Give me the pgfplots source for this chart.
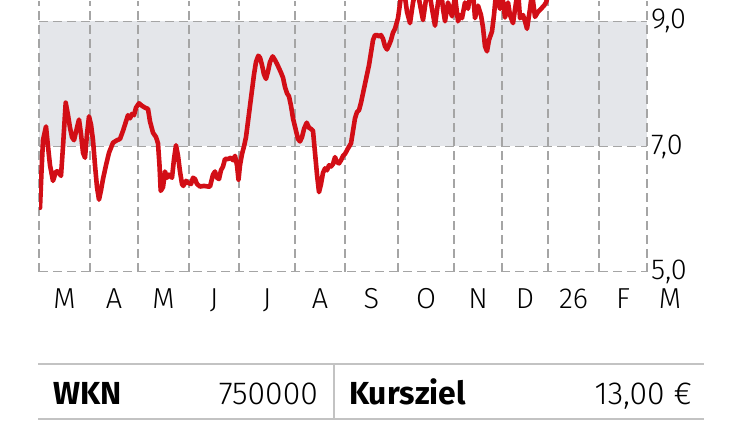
\documentclass[border=0pt]{standalone}
\usepackage{pgfplots}
\pgfplotsset{compat=1.18}
\usepackage{fontspec}
\setmainfont{Fira Sans Light}[BoldFont={Fira Sans Bold}]
\definecolor{linered}{RGB}{210,14,22}
\definecolor{band}{RGB}{228,230,234}
\definecolor{gridgray}{RGB}{165,165,165}
\definecolor{rulegray}{RGB}{195,195,195}
\begin{document}
\begin{tikzpicture}[x=1bp,y=1bp]
\begin{axis}[
  set layers,
  at={(39bp,150bp)}, anchor=south west,
  scale only axis, width=608bp, height=271bp,
  xmin=39, xmax=647, ymin=5, ymax=9.33,
  axis line style={draw=none},
  major tick length=0pt, minor tick length=0pt,
  xtick={64.5,114,163.5,214,267,320,371.5,426,478,525,573.5,623},
  xticklabels={M,A,M,J,J,A,S,O,N,D,26,F},
  minor xtick={39,90,138,189,239,295,345,398,454,502,548,599,647},
  xticklabel style={anchor=base, inner sep=0pt, yshift=-37bp, font=\fontsize{29}{34}\selectfont},
  ytick={5,7,9},
  yticklabel pos=right,
  yticklabel style={anchor=west, inner sep=0pt, xshift=4bp, font=\fontsize{29}{34}\selectfont,
    /pgf/number format/.cd, use comma, fixed, fixed zerofill, precision=1, assume math mode=true},
  xmajorgrids=false, xminorgrids=true, ymajorgrids=true,
  major grid style={gridgray, line width=1.3bp, dash pattern=on 9bp off 5bp},
  minor grid style={gridgray, line width=1.3bp, dash pattern=on 9bp off 5bp},
]
\begin{pgfonlayer}{axis background}
\fill[band] (axis cs:39,7) rectangle (axis cs:647,9);
\end{pgfonlayer}
\addplot[linered, line width=4.6bp, line join=round, line cap=round, mark=none] coordinates {
(40,6.02) (41.5,6.6) (43,7.1) (46,7.32) (48,7.0) (50,6.7) (53,6.45) (56,6.6) (58,6.6) (61,6.53)
(63,7.0) (65.7,7.7) (68,7.5) (70,7.3) (72,7.15) (74,7.1) (77,7.3) (79,7.43) (81,7.2) (83,6.9)
(85,6.82) (87,7.2) (89,7.48) (91,7.35) (93,7.1) (95,6.7) (97,6.35) (99,6.15) (101,6.3) (103,6.48)
(106,6.7) (109,6.9) (113,7.06) (117,7.1) (120,7.12) (123,7.25) (126,7.4) (128,7.5) (130,7.45) (132,7.52)
(134,7.5) (136,7.62) (139,7.69) (142,7.65) (145,7.62) (148,7.6) (150,7.4) (153,7.22) (156,7.15) (158,7.05)
(159.5,6.7) (160.7,6.29) (163,6.35) (165,6.6) (167,6.5) (169,6.55) (172,6.5) (174,6.8) (176,7.02) (178,6.85)
(180,6.6) (182,6.4) (183.3,6.37) (186,6.45) (188,6.42) (191,6.4) (193,6.5) (195,6.48) (197,6.4) (200,6.36)
(204,6.37) (208,6.36) (210,6.36) (213,6.55) (215,6.6) (217,6.5) (219,6.48) (221,6.62) (223,6.68) (225,6.8)
(228,6.8) (231,6.82) (233,6.78) (235,6.85) (237,6.7) (238.5,6.47) (240,6.7) (242,6.88) (244,7.0) (246,7.15)
(248,7.4) (250,7.65) (252,7.9) (254,8.15) (256,8.35) (258.3,8.45) (260,8.42) (262,8.3) (264,8.15) (266,8.08)
(268,8.2) (270,8.35) (272.7,8.44) (275,8.38) (277,8.32) (279,8.25) (281,8.18) (283,8.1) (285,7.95) (287,7.85)
(289,7.8) (291,7.65) (293,7.45) (296,7.25) (298,7.12) (300,7.08) (302,7.15) (304,7.28) (306.7,7.38) (309,7.3)
(311,7.28) (313,7.25) (315,6.9) (317,6.55) (319,6.27) (321,6.4) (323,6.58) (325,6.65) (327,6.62) (329,6.7)
(331,6.68) (333,6.72) (335,6.83) (337,6.75) (339,6.73) (341,6.78) (343,6.85) (345,6.88) (348,6.97) (351,7.05)
(353,7.25) (355,7.45) (357,7.55) (359,7.58) (361,7.7) (363,7.85) (365,8.0) (367,8.15) (369,8.3) (371,8.5)
(373,8.7) (375,8.78) (377,8.78) (379,8.76) (381,8.78) (383,8.72) (385,8.6) (387,8.55) (389,8.62) (391,8.7)
(393,8.82) (395,8.88) (398,9.05) (401,9.4) (404,9.5) (407,9.15) (410,8.97) (413,9.3) (416,9.5) (419,9.35)
(423,9.02) (426,9.35) (429,9.5) (432,9.2) (435,8.93) (438,9.3) (441,9.5) (443,9.2) (445,9.0) (448,9.3)
(452,9.08) (455,9.4) (458,9.0) (460,9.1) (462,9.05) (465,9.3) (468,9.2) (471,9.5) (473,9.45) (475,9.05)
(478,9.25) (481,9.1) (483,8.9) (485,8.6) (487,8.52) (489,8.7) (492,8.84) (494,9.1) (496,9.45) (498,9.3)
(500,9.2) (502,9.45) (505,9.06) (508,9.3) (510,9.1) (513,8.97) (516,9.3) (518,9.5) (520,9.05) (523,9.1)
(525,9.0) (527,8.88) (530,9.2) (532,9.45) (535,9.07) (538,9.15) (541,9.2) (544,9.25) (546,9.3) (548,9.4)
};
\end{axis}
\node[anchor=base, inner sep=0pt, font=\fontsize{29}{34}\selectfont] at (670,113) {M};
% table
\draw[rulegray, line width=1.5bp] (38,57.7) -- (704,57.7);
\draw[rulegray, line width=1.5bp] (38,2.7) -- (704,2.7);
\draw[rulegray, line width=1.2bp] (334,2.7) -- (334,57.7);
\begin{scope}[every node/.style={inner sep=0pt, font=\fontsize{32}{38}\selectfont}]
\node[anchor=base west] at (53,17.5) {\textbf{WKN}};
\node[anchor=base east] at (318,17.5) {750000};
\node[anchor=base west] at (349,17.5) {\textbf{Kursziel}};
\node[anchor=base east] at (692,17.5) {13,00 €};
\end{scope}
\useasboundingbox (0,0) rectangle (750,421);
\end{tikzpicture}
\end{document}
